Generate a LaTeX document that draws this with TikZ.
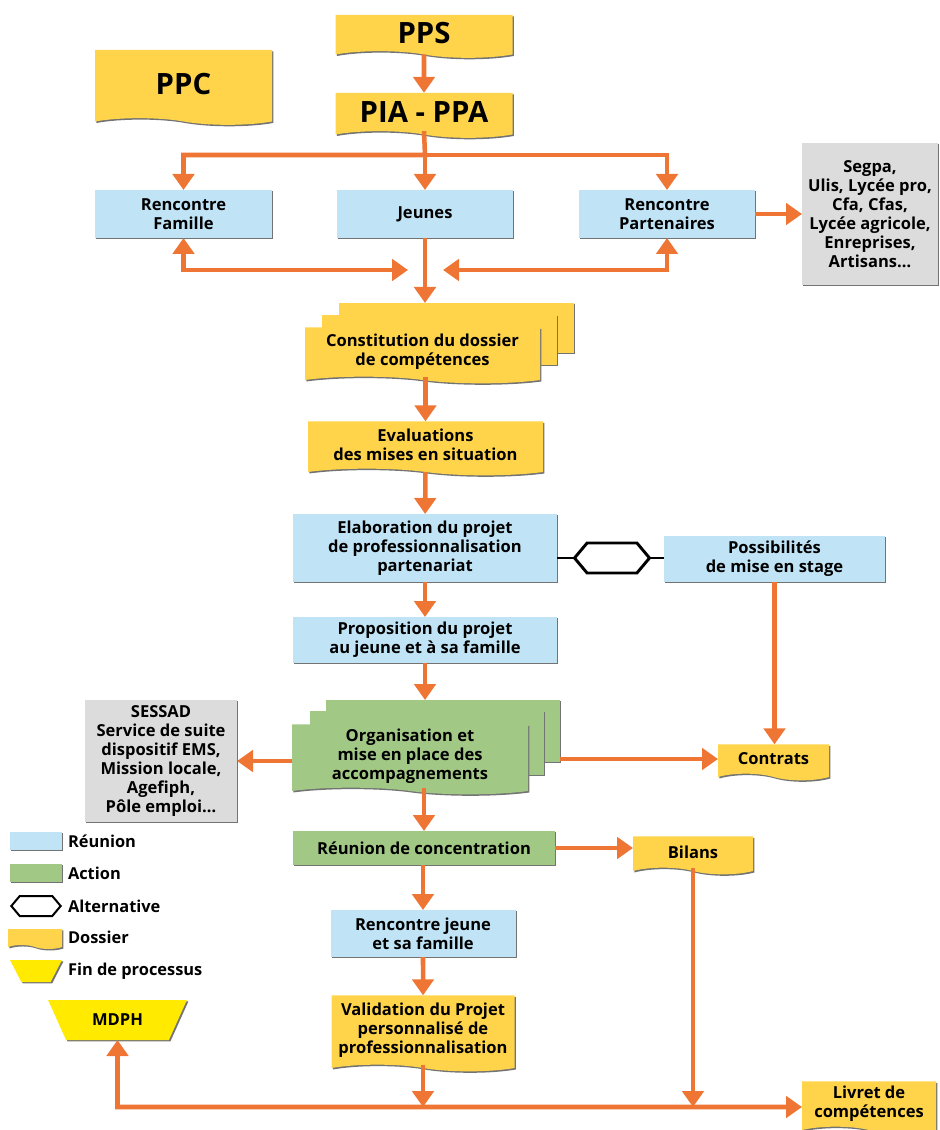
\documentclass[tikz,border=0pt]{standalone}
\usepackage{fontspec}
\setmainfont{Open Sans}
\usetikzlibrary{arrows.meta,shapes.symbols,shapes.geometric,shadows}
\definecolor{bleu}{RGB}{192,228,246}
\definecolor{vert}{RGB}{162,200,134}
\definecolor{jaune}{RGB}{255,212,74}
\definecolor{jauneFin}{RGB}{255,234,0}
\definecolor{gris}{RGB}{220,220,221}
\definecolor{orangeF}{RGB}{238,117,52}
\begin{document}
\begin{tikzpicture}[x=0.75pt,y=0.75pt,yscale=-1,xscale=1,
  every node/.style={font=\bfseries\fontsize{12.4}{14.2}\selectfont, align=center, inner sep=0pt, outer sep=0pt},
  titre/.style={font=\bfseries\fontsize{22}{24}\selectfont},
  legende/.style={anchor=west, font=\bfseries\fontsize{12.3}{14}\selectfont},
  ombre/.style={drop shadow={shadow xshift=1.1pt,shadow yshift=-1.1pt,opacity=1,fill=black!55}},
  reunion/.style={fill=bleu, ombre},
  action/.style={fill=vert, ombre},
  feuille/.style={fill=jaune, ombre},
  feuilleverte/.style={fill=vert, ombre},
  dossier/.style={tape, tape bend top=none, tape bend bottom=out and in, tape bend height=5pt, fill=jaune, ombre},
  dossiervert/.style={dossier, fill=vert},
  partenaire/.style={fill=gris, ombre},
  alternative/.style={signal, signal to=west and east, signal pointer angle=100, draw=black, line width=2.2pt, fill=white},
  fin/.style={trapezium, shape border rotate=180, trapezium stretches=true, fill=jauneFin, ombre},
  fleche/.style={draw=orangeF, line width=3.4pt, -{Triangle[width=16pt,length=12pt]}},
  fleches/.style={draw=orangeF, line width=3.4pt, {Triangle[width=16pt,length=12pt]}-{Triangle[width=16pt,length=12pt]}},
]
\useasboundingbox (0,0) rectangle (939,1130);

%Shape: Dossier
\node[dossier, titre, minimum width=132.75pt, minimum height=32.25pt] (pps) at (424,33) {PPS};
\node[dossier, titre, minimum width=132.75pt, minimum height=33.75pt] (pia) at (424,112) {PIA - PPA};
\node[dossier, titre, minimum width=132.75pt, minimum height=56.25pt] (ppc) at (183.5,84) {PPC};

%Shape: Rectangle
\node[reunion, minimum width=132.75pt, minimum height=36pt] (famille) at (183.5,214) {Rencontre\\Famille};
\node[reunion, minimum width=132pt, minimum height=36pt] (jeunes) at (425,214) {Jeunes};
\node[reunion, minimum width=132pt, minimum height=36pt] (partenaires) at (667,214) {Rencontre\\Partenaires};
\node[partenaire, minimum width=102pt, minimum height=106.5pt] (segpa) at (870,214) {Segpa,\\Ulis, Lycée pro,\\Cfa, Cfas,\\Lycée agricole,\\Enreprises,\\Artisans…};

%Shape: Multidocument
\node[feuille, minimum width=176.25pt, minimum height=37.5pt] (constitution-c) at (456,328) {};
\node[feuille, minimum width=176.25pt, minimum height=37.5pt] (constitution-b) at (439,340) {};
\node[dossier, minimum width=176.25pt, minimum height=42pt] (constitution) at (422.5,352) {Constitution du dossier\\de compétences};

\node[dossier, minimum width=176.25pt, minimum height=40.5pt] (evaluations) at (425.5,445) {Evaluations\\des mises en situation};
\node[reunion, minimum width=198pt, minimum height=51pt] (elaboration) at (425,548) {Elaboration du projet\\de professionnalisation\\partenariat};
\node[alternative, minimum width=56.25pt, minimum height=22.5pt] (alt) at (612,558) {};
\node[reunion, minimum width=165.75pt, minimum height=34.5pt] (possib) at (774.5,559) {Possibilités\\de mise en stage};
\node[reunion, minimum width=198pt, minimum height=34.5pt] (proposition) at (425,640) {Proposition du projet\\au jeune et à sa famille};

%Shape: Multidocument
\node[feuilleverte, minimum width=175.5pt, minimum height=46.5pt] (organisation-c) at (443,731) {};
\node[feuilleverte, minimum width=175.5pt, minimum height=48pt] (organisation-b) at (427,743) {};
\node[dossiervert, minimum width=177pt, minimum height=52.5pt] (organisation) at (410,756) {Organisation et\\mise en place des\\accompagnements};

\node[partenaire, minimum width=114pt, minimum height=91.5pt] (sessad) at (161,761) {SESSAD\\Service de suite\\dispositif EMS,\\Mission locale,\\Agefiph,\\Pôle emploi…};
\node[dossier, minimum width=83.25pt, minimum height=27pt] (contrats) at (773.5,759) {Contrats};
\node[action, minimum width=196.5pt, minimum height=25.5pt] (reunion-c) at (424,848) {Réunion de concentration};
\node[dossier, minimum width=90pt, minimum height=28.5pt] (bilans) at (693,852) {Bilans};
\node[reunion, minimum width=138.75pt, minimum height=35.25pt] (rjeune) at (423,933.5) {Rencontre jeune\\et sa famille};
\node[dossier, minimum width=137.25pt, minimum height=57pt] (validation) at (423,1030) {Validation du Projet\\personnalisé de\\professionnalisation};
\node[fin, trapezium angle=53, minimum width=104.25pt, minimum height=30pt] (mdph) at (117.5,1020) {MDPH};
\node[dossier, minimum width=100.5pt, minimum height=39pt] (livret) at (869,1104) {Livret de\\compétences};

% Legende
\node[reunion, minimum width=39pt, minimum height=13.5pt] (leg-reunion) at (36,841) {};
\node[legende] (t-reunion) at (68,841) {Réunion};
\node[action, minimum width=39pt, minimum height=13.5pt] (leg-action) at (36,873) {};
\node[legende] (t-action) at (68,873) {Action};
\node[alternative, line width=1.5pt, minimum width=37pt, minimum height=15pt] (leg-alt) at (36,906) {};
\node[legende] (t-alt) at (68,906) {Alternative};
\node[dossier, tape bend height=3pt, minimum width=40.5pt, minimum height=15pt] (leg-dossier) at (35,937) {};
\node[legende] (t-dossier) at (68,937) {Dossier};
\node[fin, trapezium angle=63, minimum width=39pt, minimum height=16.5pt] (leg-fin) at (36,971) {\phantom{M}};
\node[legende] (t-fin) at (68,971) {Fin de processus};

% Connecteurs
\coordinate (branche) at (425,155);
\coordinate (g) at (408,270);
\coordinate (d) at (443,270);
\coordinate (coin) at (117.5,1107);
\draw[fleche] (pps) -- (pia);
\draw[fleche] (pia.south) -- (branche) -| (famille.north);
\draw[fleche] (branche) -| (partenaires.north);
\draw[fleche] (branche) -- (jeunes.north);
\draw[fleches] (famille.south) |- (g);
\draw[fleches] (partenaires.south) |- (d);
\draw[fleche] (partenaires) -- (segpa);
\draw[fleche] (jeunes) -- (jeunes.south |- constitution-c.north);
\draw[fleche] (constitution.south -| evaluations.north) -- (evaluations.north);
\draw[fleche] (evaluations) -- (elaboration);
\draw[line width=2.2pt] (elaboration.east |- alt) -- (alt.west);
\draw[line width=2.2pt] (alt.east) -- (alt.east -| possib.west);
\draw[fleche] (elaboration) -- (proposition);
\draw[fleche] (proposition.south) -- (proposition.south |- organisation-c.north);
\draw[fleche] (organisation.west |- sessad.east) -- (sessad.east);
\draw[fleche] (organisation-c.east |- contrats.west) -- (contrats.west);
\draw[fleche] (possib.south) -- (possib.south |- contrats.north);
\draw[fleche] (organisation.south -| reunion-c.north) -- (reunion-c.north);
\draw[fleche] (reunion-c.east) -- (reunion-c.east -| bilans.west);
\draw[fleche] (reunion-c.south -| rjeune.north) -- (rjeune.north);
\draw[fleche] (rjeune) -- (validation);
\draw[fleche] (validation.south) -- (validation.south |- coin);
\draw[fleche] (bilans.south) -- (bilans.south |- coin);
\draw[fleches] (mdph.south) -- (coin) -- (coin -| livret.west);
\end{tikzpicture}
\end{document}
